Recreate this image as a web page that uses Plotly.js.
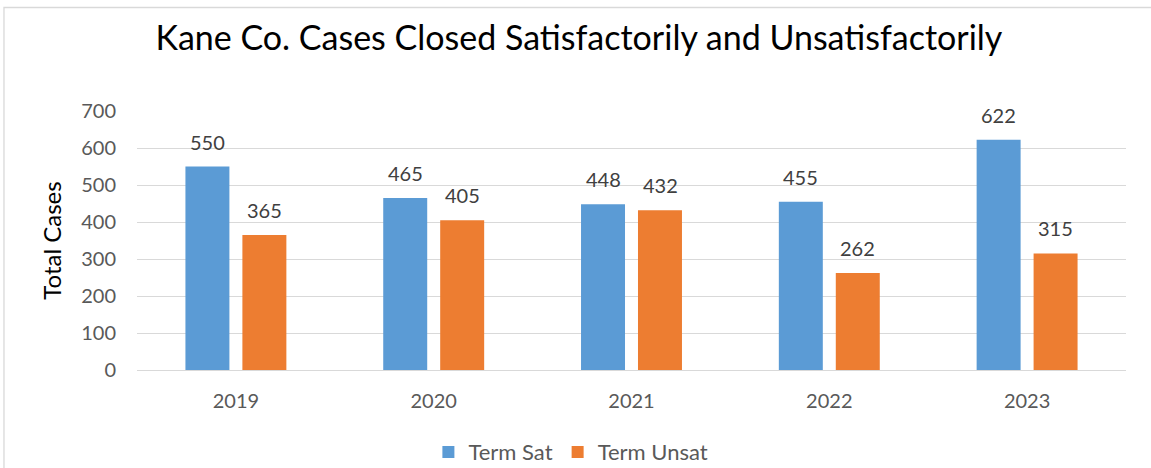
<!DOCTYPE html>
<html>
<head>
<meta charset="utf-8">
<script src="https://cdn.plot.ly/plotly-3.0.1.min.js"></script>
<style>html,body{margin:0;padding:0;background:#fff;}</style>
</head>
<body>
<div id="chart" style="width:1151px;height:468px;"></div>
<script>
const years = ['2019', '2020', '2021', '2022', '2023'];
const termSat = [550, 465, 448, 455, 622];
const termUnsat = [365, 405, 432, 262, 315];
const seriesNames = ['Term Sat', 'Term Unsat'];
const yTicks = [0, 100, 200, 300, 400, 500, 600, 700];

const blue = '#5B9BD5';
const orange = '#ED7D31';
const FONT = 'Lato, Calibri, Carlito, sans-serif';

const traces = [
  {type: 'bar', x: years, y: termSat, name: seriesNames[0], marker: {color: blue}, hoverinfo: 'skip'},
  {type: 'bar', x: years, y: termUnsat, name: seriesNames[1], marker: {color: orange}, hoverinfo: 'skip'}
];

const annotations = [];
years.forEach((yr, i) => {
  annotations.push({x: i, y: termSat[i], xref: 'x', yref: 'y', text: String(termSat[i]), showarrow: false,
    xshift: -28.5, yshift: 25, yanchor: 'middle', font: {family: FONT, size: 20, color: '#404040'}});
  annotations.push({x: i, y: termUnsat[i], xref: 'x', yref: 'y', text: String(termUnsat[i]), showarrow: false,
    xshift: 28.5, yshift: 25, yanchor: 'middle', font: {family: FONT, size: 20, color: '#404040'}});
});

const layout = {
  width: 1151, height: 468,
  margin: {l: 137, r: 25, t: 111, b: 98, autoexpand: false},
  paper_bgcolor: '#ffffff', plot_bgcolor: '#ffffff',
  font: {family: FONT, color: '#595959'},
  title: {text: 'Kane Co. Cases Closed Satisfactorily and Unsatisfactorily',
    font: {family: FONT, size: 34, color: '#000000'},
    xref: 'container', yref: 'container', x: 0.503, xanchor: 'center', y: 0.919, yanchor: 'middle'},
  barmode: 'group', bargap: 0.424, bargroupgap: 0.228,
  xaxis: {type: 'category', range: [-0.5, 4.5], autorange: false, showgrid: false, showline: false, zeroline: false, ticks: '',
    tickfont: {family: FONT, size: 20, color: '#595959'}, ticklabelstandoff: 17, fixedrange: true, automargin: false},
  yaxis: {range: [0, 700], autorange: false, tickvals: yTicks, showgrid: true, gridcolor: '#D9D9D9', gridwidth: 1,
    zeroline: true, zerolinecolor: '#D9D9D9', zerolinewidth: 1, showline: false, ticks: '',
    tickfont: {family: FONT, size: 20, color: '#595959'}, ticklabelstandoff: 20, automargin: false,
    title: {text: 'Total Cases', font: {family: FONT, size: 24, color: '#000000'}, standoff: 12}, fixedrange: true},
  legend: {orientation: 'h', xref: 'container', yref: 'container', x: 0.496, xanchor: 'center', y: 0.034, yanchor: 'middle',
    font: {family: FONT, size: 22, color: '#595959'}, itemwidth: 30, traceorder: 'normal'},
  annotations: annotations,
  shapes: [{type: 'rect', xref: 'paper', yref: 'paper', x0: -0.1345, x1: 1.03, y0: -0.4, y1: 1.3996,
    line: {color: '#D9D9D9', width: 1.3}, fillcolor: 'rgba(0,0,0,0)', layer: 'below'}]
};

Plotly.newPlot('chart', traces, layout, {displayModeBar: false, staticPlot: true});
</script>
</body>
</html>
